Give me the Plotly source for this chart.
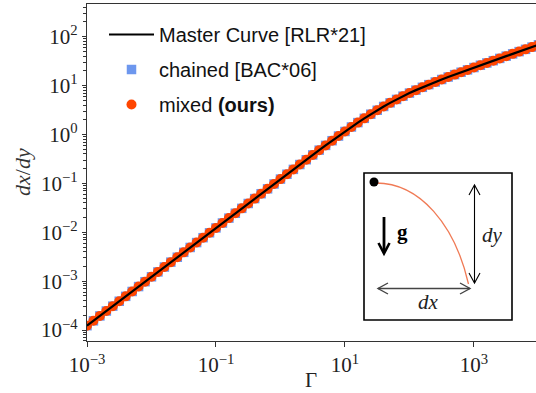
import plotly.graph_objects as go

# ---------------- data ----------------
gamma = [
    0.001, 0.001259, 0.001585, 0.001995, 0.002512, 0.003162, 0.003981, 0.005012, 0.00631, 0.007943,
    0.01, 0.01259, 0.01585, 0.01995, 0.02512, 0.03162, 0.03981, 0.05012, 0.0631, 0.07943,
    0.1, 0.1259, 0.1585, 0.1995, 0.2512, 0.3162, 0.3981, 0.5012, 0.631, 0.7943,
    1.0, 1.259, 1.585, 1.995, 2.512, 3.162, 3.981, 5.012, 6.31, 7.943,
    10.0, 12.59, 15.85, 19.95, 25.12, 31.62, 39.81, 50.12, 63.1, 79.43,
    100.0, 125.9, 158.5, 199.5, 251.2, 316.2, 398.1, 501.2, 631.0, 794.3,
    1000.0, 1259.0, 1585.0, 1995.0, 2512.0, 3162.0, 3981.0, 5012.0, 6310.0, 7943.0,
    10000.0,
]

master_dxdy = [
    1.230e-4, 1.549e-4, 1.950e-4, 2.455e-4, 3.090e-4, 3.890e-4, 4.898e-4, 6.166e-4, 7.762e-4, 9.772e-4,
    1.230e-3, 1.549e-3, 1.950e-3, 2.455e-3, 3.090e-3, 3.890e-3, 4.898e-3, 6.166e-3, 7.762e-3, 9.772e-3,
    1.230e-2, 1.549e-2, 1.950e-2, 2.455e-2, 3.087e-2, 3.886e-2, 4.891e-2, 6.154e-2, 7.742e-2, 9.739e-2,
    0.1225, 0.1540, 0.1935, 0.2431, 0.3050, 0.3823, 0.4789, 0.5987, 0.7469, 0.9294,
    1.153, 1.4245, 1.751, 2.141, 2.599, 3.132, 3.746, 4.440, 5.219, 6.084,
    7.038, 8.083, 9.224, 10.47, 11.84, 13.33, 14.98, 16.78, 18.76, 20.97,
    23.39, 26.07, 29.05, 32.35, 35.99, 40.05, 44.57, 49.57, 55.14, 61.33,
    68.17,
]

chained_dxdy = list(master_dxdy)   # [BAC*06] lies on the master curve
mixed_dxdy = list(master_dxdy)     # ours lies on the master curve

series_names = ["Master Curve [RLR*21]", "chained [BAC*06]", "mixed <b>(ours)</b>"]

x_tick_exponents = [-3, -1, 1, 3]
y_tick_exponents = [-4, -3, -2, -1, 0, 1, 2]

# ---------------- figure geometry ----------------
W, H = 536, 393
ML, MR, MT, MB = 87, 0, 4, 52
PW, PH = W - ML - MR, H - MT - MB


def px(x):
    return (x - ML) / PW


def py(y):
    return (H - MB - y) / PH


SERIF = "Liberation Serif"
SANS = "Liberation Sans"
TXT = "#222222"

fig = go.Figure()

fig.add_trace(go.Scatter(
    x=gamma, y=chained_dxdy, mode="markers", name=series_names[1],
    marker=dict(symbol="square", size=9.5, color="#6D97EE", line=dict(width=0)),
    legendgroup="b", legendrank=2,
))
fig.add_trace(go.Scatter(
    x=gamma, y=mixed_dxdy, mode="markers", name=series_names[2],
    marker=dict(symbol="circle", size=10, color="#FF4500", line=dict(width=0)),
    legendgroup="c", legendrank=3,
))
fig.add_trace(go.Scatter(
    x=gamma, y=master_dxdy, mode="lines", name=series_names[0],
    line=dict(color="black", width=2.2),
    legendgroup="a", legendrank=1,
))


def sup(e):
    s = str(e).replace("-", "\u2212")
    return f"10<sup>{s}</sup>"


minor_y = []
for e in range(-5, 3):
    for m in range(2, 10):
        minor_y.append(m * 10.0 ** e)

fig.update_xaxes(
    type="log", range=[-3, 3.962],
    tickmode="array", tickvals=[10.0 ** e for e in x_tick_exponents],
    ticktext=[sup(e) for e in x_tick_exponents],
    ticks="outside", ticklen=5, tickwidth=1, tickcolor="#333",
    showgrid=False, zeroline=False,
    showline=True, linecolor="#333", linewidth=1.3, mirror=True,
    tickfont=dict(family=SERIF, size=21, color=TXT),
)
fig.update_yaxes(
    type="log", range=[-4.223, 2.669],
    tickmode="array", tickvals=[10.0 ** e for e in y_tick_exponents],
    ticktext=[sup(e) for e in y_tick_exponents],
    ticks="outside", ticklen=4, tickwidth=1, tickcolor="#333",
    minor=dict(tickmode="array", tickvals=minor_y, ticks="outside", ticklen=2.5,
               tickwidth=0.8, tickcolor="#333", showgrid=False),
    showgrid=False, zeroline=False,
    showline=True, linecolor="#333", linewidth=1.3, mirror=True,
    tickfont=dict(family=SERIF, size=21, color=TXT),
)

# ---------------- inset schematic ----------------
shapes = []
shapes.append(dict(type="rect", xref="paper", yref="paper",
                   x0=px(364), x1=px(512), y0=py(320), y1=py(173),
                   fillcolor="white", line=dict(color="black", width=1.6), layer="above"))


def path(points, close=False):
    d = "M " + " L ".join(f"{px(a):.5f},{py(b):.5f}" for a, b in points)
    return d + (" Z" if close else "")


# hanging rod
c = [(376, 183), (420, 183), (455, 225), (468.5, 284)]
d = (f"M {px(c[0][0]):.5f},{py(c[0][1]):.5f} C {px(c[1][0]):.5f},{py(c[1][1]):.5f} "
     f"{px(c[2][0]):.5f},{py(c[2][1]):.5f} {px(c[3][0]):.5f},{py(c[3][1]):.5f}")
shapes.append(dict(type="path", xref="paper", yref="paper", path=d,
                   line=dict(color="#F07A55", width=1.3)))
# clamp point
r = 4.5
shapes.append(dict(type="circle", xref="paper", yref="paper",
                   x0=px(374 - r), x1=px(374 + r), y0=py(182 + r), y1=py(182 - r),
                   fillcolor="black", line=dict(width=0)))
# gravity arrow
shapes.append(dict(type="path", xref="paper", yref="paper",
                   path=path([(384, 217), (384, 252)]), line=dict(color="black", width=2.8)))
shapes.append(dict(type="path", xref="paper", yref="paper",
                   path=path([(378.5, 243), (384, 253.5), (389.5, 243)]),
                   line=dict(color="black", width=2.6)))
# dy arrow
shapes.append(dict(type="path", xref="paper", yref="paper",
                   path=path([(474.5, 185), (474.5, 283)]), line=dict(color="black", width=1.1)))
shapes.append(dict(type="path", xref="paper", yref="paper",
                   path=path([(469, 195), (474.5, 185), (480, 195)]), line=dict(color="black", width=1.1)))
shapes.append(dict(type="path", xref="paper", yref="paper",
                   path=path([(469, 273), (474.5, 283), (480, 273)]), line=dict(color="black", width=1.1)))
# dx arrow
shapes.append(dict(type="path", xref="paper", yref="paper",
                   path=path([(378, 288.5), (470, 288.5)]), line=dict(color="#444", width=1.4)))
shapes.append(dict(type="path", xref="paper", yref="paper",
                   path=path([(388, 283), (378, 288.5), (388, 294)]), line=dict(color="#444", width=1.4)))
shapes.append(dict(type="path", xref="paper", yref="paper",
                   path=path([(460, 283), (470, 288.5), (460, 294)]), line=dict(color="#444", width=1.4)))


def label(text, x, y, size=21, color=TXT, angle=0):
    return dict(text=text, x=px(x), y=py(y), xref="paper", yref="paper", showarrow=False,
                xanchor="center", yanchor="middle", textangle=angle,
                font=dict(family=SERIF, size=size, color=color))


annotations = [
    label("<b>g</b>", 402, 232, color="black"),
    label("<i>dy</i>", 492, 235),
    label("<i>dx</i>", 428, 302),
    # axis titles
    label("\u0393", 311, 380),
    label("<i>dx</i>/<i>dy</i>", 22, 172, size=22, color="#333", angle=-90),
]

fig.update_layout(
    width=W, height=H,
    margin=dict(l=ML, r=MR, t=MT, b=MB, pad=0),
    paper_bgcolor="white", plot_bgcolor="white",
    shapes=shapes, annotations=annotations,
    legend=dict(x=px(104), y=py(15), xanchor="left", yanchor="top",
                bgcolor="rgba(0,0,0,0)", borderwidth=0,
                font=dict(family=SANS, size=20, color="#111"),
                traceorder="grouped", tracegroupgap=6, itemwidth=45),
)

fig.write_html("out.html")
